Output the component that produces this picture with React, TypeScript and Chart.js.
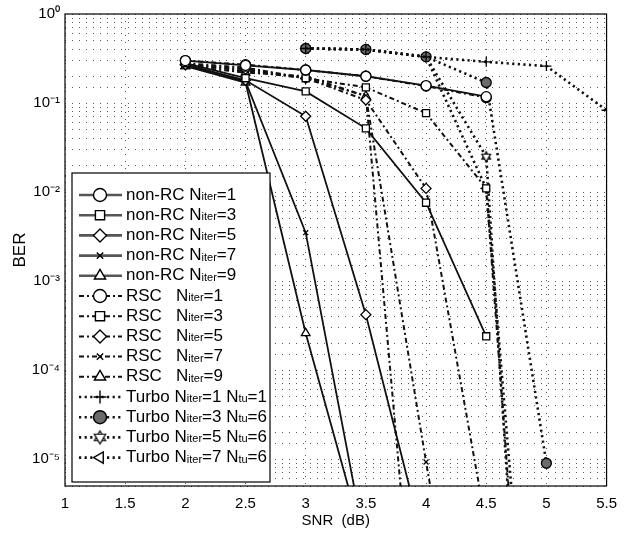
import React, { useEffect, useRef } from 'react';
import { Chart, registerables } from 'chart.js';
import { drawPoint } from 'chart.js/helpers';

Chart.register(...registerables);

// ---------------- data ----------------
const snrNonRC1 = [2, 2.5, 3, 3.5, 4, 4.5];
const berNonRC1 = [0.30, 0.265, 0.235, 0.20, 0.157, 0.118];
const snrNonRC3 = [2, 2.5, 3, 3.5, 4, 4.5];
const berNonRC3 = [0.28, 0.19, 0.135, 0.052, 0.0076, 2.4e-4];
const snrNonRC5 = [2, 2.5, 3, 3.5, 4];
const berNonRC5 = [0.27, 0.18, 0.071, 4.2e-4, 9e-7];
const snrNonRC7 = [2, 2.5, 3, 3.5];
const berNonRC7 = [0.27, 0.175, 3.5e-3, 1e-6];
const snrNonRC9 = [2, 2.5, 3, 3.5];
const berNonRC9 = [0.26, 0.17, 2.6e-4, 9.5e-7];

const snrRSC1 = [2, 2.5, 3, 3.5, 4, 4.5];
const berRSC1 = [0.30, 0.27, 0.235, 0.20, 0.155, 0.115];
const snrRSC3 = [2, 2.5, 3, 3.5, 4, 4.5, 5];
const berRSC3 = [0.28, 0.25, 0.19, 0.15, 0.077, 0.011, 1e-11];
const snrRSC5 = [2, 2.5, 3, 3.5, 4, 4.5];
const berRSC5 = [0.27, 0.24, 0.19, 0.108, 0.011, 1.8e-6];
const snrRSC7 = [2, 2.5, 3, 3.5, 4, 4.5];
const berRSC7 = [0.27, 0.23, 0.19, 0.12, 9.3e-6, 1.3e-9];
const snrRSC9 = [2, 2.5, 3, 3.5, 4];
const berRSC9 = [0.26, 0.22, 0.20, 0.12, 3e-9];

const snrTurbo1 = [3, 3.5, 4, 4.5, 5, 5.5];
const berTurbo1 = [0.41, 0.40, 0.33, 0.29, 0.26, 0.083];
const snrTurbo3 = [3, 3.5, 4, 4.5, 5];
const berTurbo3 = [0.41, 0.40, 0.33, 0.17, 9e-6];
const snrTurbo5 = [3, 3.5, 4, 4.5, 5];
const berTurbo5 = [0.41, 0.40, 0.33, 0.025, 1e-12];
const snrTurbo7 = [3, 3.5, 4, 4.5, 5];
const berTurbo7 = [0.41, 0.40, 0.33, 0.011, 1e-10];

const seriesLabels = [
  'non-RC Niter=1', 'non-RC Niter=3', 'non-RC Niter=5', 'non-RC Niter=7', 'non-RC Niter=9',
  'RSC   Niter=1', 'RSC   Niter=3', 'RSC   Niter=5', 'RSC   Niter=7', 'RSC   Niter=9',
  'Turbo Niter=1 Ntu=1', 'Turbo Niter=3 Ntu=6', 'Turbo Niter=5 Ntu=6', 'Turbo Niter=7 Ntu=6',
];

const xTitle = 'SNR  (dB)';
const yTitle = 'BER';
const xMin = 1;
const xMax = 5.5;
const xStep = 0.5;
const yMin = 5e-6;
const yMax = 1;

// ---------------- styling ----------------
const FONT = '"Liberation Sans", Arial, sans-serif';
const NARROW = '"Liberation Sans Narrow", "Liberation Sans", Arial, sans-serif';
const INK = '#111';

const SUP: Record<string, string> = {
  '0': '⁰', '1': '¹', '2': '²', '3': '³', '4': '⁴', '5': '⁵', '6': '⁶', '7': '⁷', '8': '⁸', '9': '⁹', '-': '⁻',
};

function pts(xs: number[], ys: number[]) {
  return xs.map((x, i) => ({ x, y: ys[i] }));
}

function makeHexagram(r: number): HTMLCanvasElement {
  const s = Math.ceil(r * 2 + 4);
  const c = document.createElement('canvas');
  c.width = s;
  c.height = s;
  const g = c.getContext('2d')!;
  g.strokeStyle = '#000';
  g.fillStyle = '#fff';
  g.lineWidth = 1.2;
  const cx = s / 2;
  const cy = s / 2;
  const tri = (rot: number) => {
    g.beginPath();
    for (let k = 0; k < 3; k++) {
      const a = rot + (k * 2 * Math.PI) / 3;
      const px = cx + r * Math.sin(a);
      const py = cy - r * Math.cos(a);
      if (k === 0) g.moveTo(px, py);
      else g.lineTo(px, py);
    }
    g.closePath();
    g.fill();
    g.stroke();
  };
  tri(0);
  tri(Math.PI);
  return c;
}

function drawRich(ctx: CanvasRenderingContext2D, text: string, x: number, y: number, size: number) {
  const re = /N(iter|tu)/g;
  let last = 0;
  let cx = x;
  let m: RegExpExecArray | null;
  ctx.textBaseline = 'middle';
  ctx.textAlign = 'left';
  while ((m = re.exec(text))) {
    const before = text.slice(last, m.index) + 'N';
    ctx.font = `${size}px ${FONT}`;
    ctx.fillText(before, cx, y);
    cx += ctx.measureText(before).width;
    ctx.font = `${Math.round(size * 0.62)}px ${FONT}`;
    ctx.fillText(m[1], cx, y + 2);
    cx += ctx.measureText(m[1]).width;
    last = m.index + m[0].length;
  }
  const rest = text.slice(last);
  ctx.font = `${size}px ${FONT}`;
  ctx.fillText(rest, cx, y);
}

export default function App() {
  const ref = useRef<HTMLCanvasElement | null>(null);

  useEffect(() => {
    if (!ref.current) return;
    const hexSmall = makeHexagram(5);
    const hexLegend = makeHexagram(6.5);

    const solid = { borderColor: INK, borderWidth: 1.8, borderDash: [] as number[] };
    const dashDot = { borderColor: INK, borderWidth: 2, borderDash: [5, 3, 2, 3] };
    const dotted = { borderColor: INK, borderWidth: 2.6, borderDash: [2.2, 3.4] };

    const mk = (label: string, xs: number[], ys: number[], line: any, pointStyle: any, extra: any = {}) => ({
      label,
      data: pts(xs, ys),
      ...line,
      backgroundColor: '#fff',
      pointStyle,
      pointRadius: 5,
      pointBorderWidth: 1.3,
      pointBorderColor: '#000',
      pointBackgroundColor: '#fff',
      pointRotation: 0,
      tension: 0,
      fill: false,
      ...extra,
    });

    const datasets: any[] = [
      mk(seriesLabels[0], snrNonRC1, berNonRC1, solid, 'circle'),
      mk(seriesLabels[1], snrNonRC3, berNonRC3, solid, 'rect'),
      mk(seriesLabels[2], snrNonRC5, berNonRC5, solid, 'rectRot'),
      mk(seriesLabels[3], snrNonRC7, berNonRC7, solid, 'crossRot', { pointRadius: 3.5 }),
      mk(seriesLabels[4], snrNonRC9, berNonRC9, solid, 'triangle'),
      mk(seriesLabels[5], snrRSC1, berRSC1, dashDot, 'circle'),
      mk(seriesLabels[6], snrRSC3, berRSC3, dashDot, 'rect'),
      mk(seriesLabels[7], snrRSC5, berRSC5, dashDot, 'rectRot'),
      mk(seriesLabels[8], snrRSC7, berRSC7, dashDot, 'crossRot', { pointRadius: 3.5 }),
      mk(seriesLabels[9], snrRSC9, berRSC9, dashDot, 'triangle'),
      mk(seriesLabels[10], snrTurbo1, berTurbo1, dotted, 'cross', { pointRadius: 5 }),
      mk(seriesLabels[11], snrTurbo3, berTurbo3, dotted, 'circle', { pointBackgroundColor: '#6a6a6a' }),
      mk(seriesLabels[12], snrTurbo5, berTurbo5, dotted, hexSmall),
      mk(seriesLabels[13], snrTurbo7, berTurbo7, dotted, 'triangle', { pointRotation: -90 }),
    ];

    const framePlugin = {
      id: 'frame',
      afterDatasetsDraw(chart: any) {
        const { ctx, chartArea: a } = chart;
        ctx.save();
        ctx.strokeStyle = '#000';
        ctx.lineWidth = 1.2;
        ctx.setLineDash([]);
        ctx.strokeRect(a.left, a.top, a.right - a.left, a.bottom - a.top);
        ctx.restore();
      },
    };

    const legendPlugin = {
      id: 'insideLegend',
      afterDraw(chart: any) {
        const { ctx } = chart;
        const bx = 72;
        const by = 173;
        const bw = 198;
        const bh = 309;
        const rowTop = 195;
        const rowStep = 20.2;
        ctx.save();
        ctx.fillStyle = '#fff';
        ctx.fillRect(bx, by, bw, bh);
        ctx.strokeStyle = '#000';
        ctx.lineWidth = 1.2;
        ctx.setLineDash([]);
        ctx.strokeRect(bx, by, bw, bh);
        chart.data.datasets.forEach((ds: any, i: number) => {
          const y = rowTop + i * rowStep;
          ctx.save();
          ctx.strokeStyle = i < 5 ? '#555' : ds.borderColor;
          ctx.lineWidth = i < 5 ? 2.6 : ds.borderWidth;
          ctx.setLineDash(ds.borderDash || []);
          ctx.beginPath();
          ctx.moveTo(79, y);
          ctx.lineTo(122, y);
          ctx.stroke();
          ctx.restore();
          ctx.save();
          ctx.setLineDash([]);
          ctx.strokeStyle = ds.pointBorderColor;
          ctx.fillStyle = ds.pointBackgroundColor;
          ctx.lineWidth = 1.4;
          const style = ds.pointStyle instanceof HTMLCanvasElement ? hexLegend : ds.pointStyle;
          drawPoint(ctx, {
            pointStyle: style,
            radius: ds.pointRadius < 5 ? 4.5 : 6.5,
            rotation: ds.pointRotation || 0,
            borderWidth: 1.4,
          } as any, 100, y);
          ctx.restore();
          ctx.fillStyle = '#000';
          drawRich(ctx, ds.label, 126, y, 17);
        });
        ctx.restore();
      },
    };

    const chart = new Chart(ref.current, {
      type: 'line',
      data: { datasets },
      options: {
        responsive: false,
        animation: false,
        layout: { padding: { top: 10, right: 17, left: 0, bottom: 0 } },
        plugins: { legend: { display: false }, tooltip: { enabled: false } },
        elements: { line: { borderCapStyle: 'butt' } },
        scales: {
          x: {
            type: 'linear',
            min: xMin,
            max: xMax,
            afterFit: (s: any) => { s.height = 48; },
            ticks: {
              stepSize: xStep,
              color: '#000',
              padding: 9,
              font: { family: NARROW, size: 15 },
              maxRotation: 0,
              autoSkip: false,
              callback: (v: any) => String(Math.round(Number(v) * 10) / 10),
            },
            grid: { color: '#5a5a5a', lineWidth: 1, drawTicks: false },
            border: { display: false, dash: [1, 6] },
            title: {
              display: true,
              text: xTitle,
              color: '#000',
              font: { family: NARROW, size: 15 },
              padding: { top: 0, bottom: 4 },
            },
          },
          y: {
            type: 'logarithmic',
            min: yMin,
            max: yMax,
            afterFit: (s: any) => { s.width = 65; },
            ticks: {
              color: '#000',
              padding: 5,
              autoSkip: false,
              font: { family: FONT, size: 15 },
              callback: (v: any) => {
                const l = Math.log10(Number(v));
                if (Math.abs(l - Math.round(l)) > 1e-6) return '';
                const e = String(Math.round(l));
                return '10' + e.split('').map((c) => SUP[c] || c).join('');
              },
            },
            grid: { color: '#5a5a5a', lineWidth: 1, drawTicks: false },
            border: { display: false, dash: [1, 6] },
            title: {
              display: true,
              text: yTitle,
              color: '#000',
              font: { family: FONT, size: 17 },
              padding: { top: 10, bottom: 0 },
            },
          },
        },
      },
      plugins: [framePlugin, legendPlugin],
    });

    return () => chart.destroy();
  }, []);

  return (
    <div style={{ position: 'fixed', left: 0, top: 0, width: 626, height: 534, background: '#fff' }}>
      <canvas ref={ref} width={626} height={534} style={{ width: 626, height: 534 }} />
    </div>
  );
}
